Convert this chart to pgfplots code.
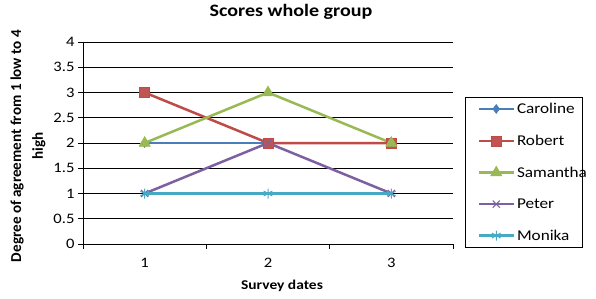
\documentclass[border=0pt]{standalone}
\usepackage{pgfplots}
\pgfplotsset{compat=1.18}
\usepackage{fontspec}
\setmainfont{Carlito}[FakeStretch=1.15]
\newfontfamily\ylabfont{Carlito}
\definecolor{cBlue}{HTML}{4A7EBB}
\definecolor{cRed}{HTML}{BE4B48}
\definecolor{cGreen}{HTML}{98B954}
\definecolor{cPurple}{HTML}{7D60A0}
\definecolor{cCyan}{HTML}{46AAC5}
\begin{document}
\begin{tikzpicture}[x=1bp,y=1bp]
\useasboundingbox (0,0) rectangle (596,298);
\begin{axis}[
  at={(83bp,54bp)}, anchor=south west,
  scale only axis, width=370bp, height=202bp,
  xmin=0.5, xmax=3.5, ymin=0, ymax=4,
  axis x line*=bottom, axis y line*=left,
  axis line style={-, black, line width=1bp},
  xtick={1,2,3},
  minor xtick={0.5,1.5,2.5,3.5},
  major x tick style={draw=none},
  minor x tick style={black, line width=1bp},
  ytick={0,0.5,...,4},
  ytick style={black, line width=1bp},
  tick align=outside,
  major tick length=5bp, minor tick length=5bp,
  ymajorgrids,
  grid style={black, line width=1bp},
  /pgf/number format/assume math mode=true,
  yticklabel style={/pgf/number format/fixed, /pgf/number format/precision=1, font=\fontsize{14.5}{16}\selectfont},
  xticklabel style={font=\fontsize{14.5}{16}\selectfont, yshift=-6bp},
  title={Scores whole group},
  title style={font=\bfseries\fontsize{17.5}{20}\selectfont, at={(0.5,1)}, anchor=center, yshift=24bp, xshift=23bp},
  xlabel={Survey dates},
  xlabel style={font=\bfseries\fontsize{13.5}{16}\selectfont, at={(0.5,0)}, anchor=center, yshift=-42bp, xshift=14bp},
  ylabel={Degree of agreement from 1 low to 4\\high},
  ylabel style={font=\ylabfont\bfseries\fontsize{15.2}{22}\selectfont, align=center, at={(0,0.5)}, anchor=center, yshift=55bp, xshift=-3bp},
  legend cell align=left,
  legend style={at={(1,0)}, anchor=south west, xshift=12bp, yshift=-4bp,
    draw=black, line width=1bp, inner sep=4bp, row sep=16bp,
    font=\fontsize{15}{16}\selectfont},
  legend image code/.code={\path (0bp,0bp); \draw[mark repeat=2,mark phase=2,#1] plot coordinates {(8bp,0bp) (25.5bp,0bp) (43bp,0bp)};},
]
\addplot[color=cBlue, line width=2.5bp, mark=diamond*, mark size=4.5bp, mark options={fill=cBlue, line width=0.5bp}] coordinates {(1,2) (2,2) (3,2)};
\addlegendentry{\makebox[60bp][l]{Caroline}}
\addplot[color=cRed, line width=2.5bp, mark=square*, mark size=5bp, mark options={fill=cRed!95!white, line width=0.5bp}] coordinates {(1,3) (2,2) (3,2)};
\addlegendentry{\makebox[60bp][l]{Robert}}
\addplot[color=cGreen, line width=2.5bp, mark=triangle*, mark size=6.5bp, mark options={fill=cGreen, line width=0.5bp}] coordinates {(1,2) (2,3) (3,2)};
\addlegendentry{\makebox[60bp][l]{Samantha}}
\addplot[color=cPurple, line width=2.5bp, mark=x, mark size=5bp, mark options={line width=1bp}] coordinates {(1,1) (2,2) (3,1)};
\addlegendentry{\makebox[60bp][l]{Peter}}
\addplot[color=cCyan, line width=2.5bp, mark=asterisk, mark size=5bp, mark options={line width=1bp}] coordinates {(1,1) (2,1) (3,1)};
\addlegendentry{\makebox[60bp][l]{Monika}}
\end{axis}
\end{tikzpicture}
\end{document}
